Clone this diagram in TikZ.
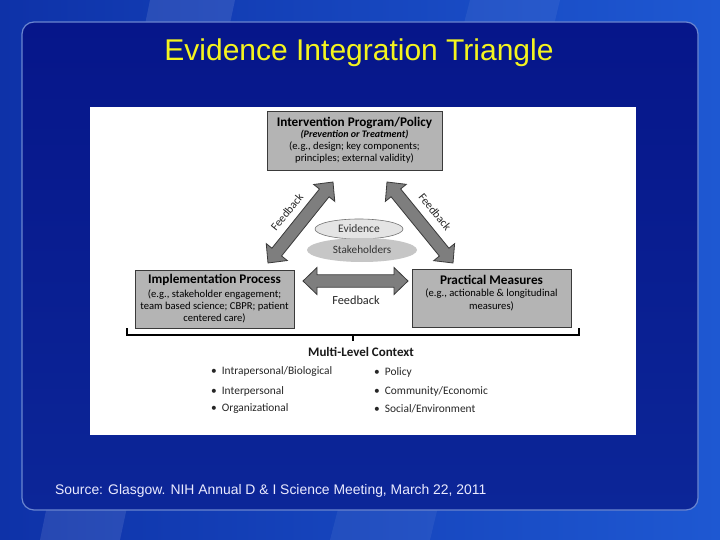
\documentclass[tikz,border=0pt]{standalone}
\usepackage{fontspec}
\setmainfont{Carlito}
\newfontfamily\arialf{Liberation Sans}
\usetikzlibrary{calc,shapes.geometric}
\definecolor{outerA}{HTML}{0E32A8}
\definecolor{outerB}{HTML}{1E58D2}
\definecolor{panelA}{HTML}{06168A}
\definecolor{panelB}{HTML}{0C2698}
\definecolor{panelline}{HTML}{6A86D0}
\definecolor{titleyellow}{HTML}{F4F41E}
\definecolor{boxgray}{HTML}{B4B4B4}
\definecolor{boxline}{HTML}{3A3A3A}
\definecolor{arrowgray}{HTML}{7E7E7E}
\definecolor{evfill}{HTML}{E4E4E4}
\definecolor{stfill}{HTML}{C6C6C6}
\newcommand\fatarrow[2]{%
 \coordinate (faH1) at ($(#1)!14pt!(#2)$);
 \coordinate (faH2) at ($(#2)!14pt!(#1)$);
 \path[fatarrowstyle] (#1) -- ($(faH1)!13.5pt!-90:(#2)$) -- ($(faH1)!6.2pt!-90:(#2)$)
  -- ($(faH2)!6.2pt!90:(#1)$) -- ($(faH2)!13.5pt!90:(#1)$) -- (#2)
  -- ($(faH2)!13.5pt!-90:(#1)$) -- ($(faH2)!6.2pt!-90:(#1)$)
  -- ($(faH1)!6.2pt!90:(#2)$) -- ($(faH1)!13.5pt!90:(#2)$) -- cycle;
}
\tikzset{
 fatarrowstyle/.style={fill=arrowgray, draw=boxline, line width=0.8pt, line join=miter},
 graybox/.style={draw=boxline, fill=boxgray, line width=0.9pt, inner sep=0pt, align=center, font=\fontsize{10.6}{12.3}\selectfont},
 fbk/.style={font=\fontsize{11.5}{13}\selectfont, text=black!85, inner sep=0pt},
 bul/.style={anchor=west, font=\fontsize{11.4}{13}\selectfont, text=black!85, inner sep=0pt},
}
\begin{document}
\begin{tikzpicture}[x=1pt,y=-1pt]
\useasboundingbox (0,0) rectangle (720,540);
% background
\shade[left color=outerA, right color=outerB] (0,0) rectangle (720,540);
\fill[white, opacity=0.10] (150,0) -- (235,0) -- (120,540) -- (40,540) -- cycle;
\fill[white, opacity=0.06] (470,0) -- (560,0) -- (430,540) -- (330,540) -- cycle;
% panel
\shade[rounded corners=12pt, top color=panelA, bottom color=panelB] (22,22) rectangle (698,510);
\draw[rounded corners=12pt, panelline, line width=1.2pt] (22,22) rectangle (698,510);
% title
\node (title) at (359,53) {\arialf\fontsize{30}{33}\selectfont\color{titleyellow}Evidence Integration Triangle};
% white figure area
\fill[white] (90,107) rectangle (636,435);
% boxes
\node[graybox, minimum width=175pt, minimum height=59pt] (top) at (354.5,140.5)
 {{\fontsize{13.2}{14}\selectfont\bfseries Intervention Program/Policy}\\[-1.5pt]
  {\fontsize{10}{12}\selectfont\bfseries\itshape (Prevention or Treatment)}\\
  (e.g., design; key components;\\
  principles; external validity)};
\node[graybox, minimum width=159pt, minimum height=58pt] (left) at (214.5,299)
 {{\fontsize{13.2}{14}\selectfont\bfseries Implementation Process}\\[1pt]
  (e.g., stakeholder engagement;\\
  team based science; CBPR; patient\\
  centered care)};
\node[graybox, minimum width=159pt, minimum height=58pt] (right) at (491.5,298) {};
\node[align=center, inner sep=0pt, font=\fontsize{10.6}{12.3}\selectfont, text=black] (righttext) at (491.5,293)
 {{\fontsize{13.2}{14}\selectfont\bfseries Practical Measures}\\[0pt]
  (e.g., actionable \& longitudinal\\
  measures)};
% ellipses
\node[ellipse, draw=black!55, fill=evfill, minimum width=88pt, minimum height=20pt, inner sep=0pt, line width=0.6pt,
 font=\fontsize{11.5}{13}\selectfont, text=black!80] (evid) at (359,229) {Evidence};
\node[ellipse, fill=stfill, minimum width=110pt, minimum height=24pt, inner sep=0pt,
 font=\fontsize{11.2}{13}\selectfont, text=black!80] (stake) at (362,250) {Stakeholders};
% arrow end points
\coordinate (L1) at (268,263);
\coordinate (L2) at (333,182);
\coordinate (R1) at (387,182);
\coordinate (R2) at (453,263);
\coordinate (H1) at (303,281);
\coordinate (H2) at (408,281);
\fatarrow{L1}{L2}
\fatarrow{R1}{R2}
\fatarrow{H1}{H2}
\node[fbk, rotate=51] (fbl) at (287,212) {Feedback};
\node[fbk, rotate=-51] (fbr) at (435,212) {Feedback};
\node[fbk, font=\fontsize{12.3}{13}\selectfont] (fbh) at (356,300) {Feedback};
% bracket
\coordinate (bl) at (127,328);
\coordinate (br) at (579,328);
\coordinate (bm) at (353,335);
\draw[black, line width=1.5pt] (bl) -- (127,335) -- (579,335) -- (br);
\draw[black, line width=1.5pt] (bm) -- (353,341);
\node[inner sep=0pt, font=\fontsize{13}{14}\selectfont\bfseries, text=black!90] (mlc) at (361,352) {Multi-Level Context};
\node[bul] (b1) at (211,372) {\textbullet\hspace{5pt}Intrapersonal/Biological};
\node[bul] (b2) at (211,391) {\textbullet\hspace{5pt}Interpersonal};
\node[bul] (b3) at (211,409) {\textbullet\hspace{5pt}Organizational};
\node[bul] (b4) at (374,372) {\textbullet\hspace{5pt}Policy};
\node[bul] (b5) at (374,391) {\textbullet\hspace{5pt}Community/Economic};
\node[bul] (b6) at (374,409) {\textbullet\hspace{5pt}Social/Environment};
% source
\node[anchor=west, inner sep=0pt, text=white!92!blue] (src) at (55,491) {\arialf\fontsize{13.9}{15}\selectfont Source: Glasgow. NIH Annual D \& I Science Meeting, March 22, 2011};
\end{tikzpicture}
\end{document}
